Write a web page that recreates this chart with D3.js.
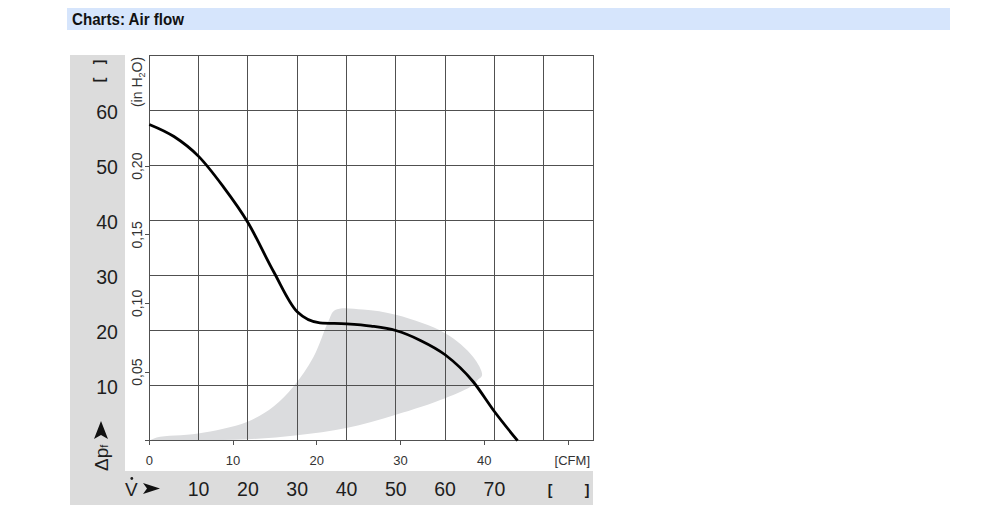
<!DOCTYPE html>
<html><head><meta charset="utf-8">
<script src="https://cdn.jsdelivr.net/npm/d3@7"></script>
<style>body{margin:0;background:#fff;} svg{display:block;font-family:"Liberation Sans",Arial,sans-serif;}</style>
</head><body>
<svg id="c" width="1000" height="515"></svg>
<script>
// ---- data ----
const title = "Charts: Air flow";
const flowTicks = [10, 20, 30, 40, 50, 60, 70];          // m³/h labels
const paTicks = [10, 20, 30, 40, 50, 60];                 // Pa labels
const cfmTicks = [0, 10, 20, 30, 40, 50];                 // CFM ticks
const inH2OTicks = [0.05, 0.10, 0.15, 0.20];              // in H2O ticks
const curveFlow = [0, 5, 10, 15, 20, 25.2, 30, 34.6, 40, 45, 50, 55, 60, 65.7, 70, 74.7];
const curvePa   = [57.4, 55.2, 51.6, 46.1, 39.6, 30.7, 23.4, 21.4, 21.2, 20.8, 20.0, 18.2, 15.6, 10.7, 5.3, 0];
const areaUpperFlow = [0, 1.5, 9.9, 19.8, 25.2, 29.2, 33.3, 36.3, 37.7, 43.3, 50.2, 60.0, 65.7, 67.5, 66.7];
const areaUpperPa   = [0, 0.6, 1.3, 3.4, 6.2, 9.8, 15.2, 21.6, 23.7, 23.8, 22.8, 19.5, 15.2, 11.9, 11.1];
const areaLowerFlow = [65.7, 60.0, 50.0, 40.0, 30.0, 19.8, 10, 0];
const areaLowerPa   = [10.1, 7.7, 4.7, 2.3, 1.0, 0.25, 0.05, 0];

const CFM = 1.699;      // m³/h per CFM
const INH2O = 249.09;   // Pa per inch H2O

const svg = d3.select("#c");
const x = d3.scaleLinear().domain([0, 90]).range([149.3, 593]);
const y = d3.scaleLinear().domain([0, 70]).range([440.7, 55]);

// header
svg.append("rect").attr("x", 67).attr("y", 8).attr("width", 883).attr("height", 22).attr("fill", "#d6e5fc");
svg.append("text").attr("x", 72).attr("y", 25).attr("font-size", 17).attr("font-weight", "bold")
  .attr("fill", "#111").attr("textLength", 112).attr("lengthAdjust", "spacingAndGlyphs").text(title);

// gray panels
svg.append("rect").attr("x", 70).attr("y", 55).attr("width", 55).attr("height", 450).attr("fill", "#dcdcdc");
svg.append("rect").attr("x", 70).attr("y", 471).attr("width", 523).attr("height", 34).attr("fill", "#dcdcdc");

// operating area
const areaPts = areaUpperFlow.map((f, i) => [f, areaUpperPa[i]])
  .concat(areaLowerFlow.map((f, i) => [f, areaLowerPa[i]]));
svg.append("path")
  .attr("d", d3.line().x(d => x(d[0])).y(d => y(d[1])).curve(d3.curveCatmullRomClosed.alpha(0.5))(areaPts))
  .attr("fill", "#dbdcde");

// grid
const g = svg.append("g").attr("stroke", "#505050").attr("stroke-width", 1).attr("shape-rendering", "crispEdges");
d3.range(0, 91, 10).forEach(v => {
  g.append("line").attr("x1", x(v)).attr("x2", x(v)).attr("y1", y(70)).attr("y2", v === 0 ? y(0) + 3 : y(0));
});
d3.range(0, 71, 10).forEach(p => {
  g.append("line").attr("y1", y(p)).attr("y2", y(p)).attr("x1", p === 0 ? x(0) - 4 : x(0)).attr("x2", x(90));
});
cfmTicks.forEach(c => {
  g.append("line").attr("x1", x(c * CFM)).attr("x2", x(c * CFM)).attr("y1", y(0)).attr("y2", y(0) + 4);
});
inH2OTicks.forEach(t => {
  g.append("line").attr("y1", y(t * INH2O)).attr("y2", y(t * INH2O)).attr("x1", x(0) - 4).attr("x2", x(0));
});

// curve
svg.append("path")
  .attr("d", d3.line().x(d => x(d[0])).y(d => y(d[1])).curve(d3.curveMonotoneX)(curveFlow.map((f, i) => [f, curvePa[i]])))
  .attr("fill", "none").attr("stroke", "#000").attr("stroke-width", 2.8).attr("stroke-linejoin", "round");

// CFM labels
svg.selectAll(".cfm").data(cfmTicks.slice(0, 5)).enter().append("text")
  .attr("x", d => x(d * CFM)).attr("y", 465).attr("text-anchor", "middle")
  .attr("font-size", 13).attr("fill", "#333").text(d => d);
svg.append("text").attr("x", 590).attr("y", 465).attr("text-anchor", "end").attr("font-size", 13).attr("fill", "#333").text("[CFM]");

// inH2O labels
inH2OTicks.forEach(t => {
  const yy = y(t * INH2O);
  svg.append("text").attr("transform", `translate(141.5,${yy}) rotate(-90)`).attr("text-anchor", "middle")
    .attr("font-size", 14).attr("fill", "#333").text(t.toFixed(2).replace(".", ","));
});
const ih = svg.append("text").attr("transform", "translate(141.5,82) rotate(-90)").attr("text-anchor", "middle")
  .attr("font-size", 14).attr("fill", "#333");
ih.append("tspan").text("(in H");
ih.append("tspan").attr("font-size", 9).attr("dy", 3).text("2");
ih.append("tspan").attr("dy", -3).text("O)");

// Pa labels
svg.selectAll(".pa").data(paTicks).enter().append("text")
  .attr("x", 107).attr("y", d => y(d) + 8.5).attr("text-anchor", "middle")
  .attr("font-size", 19.5).attr("fill", "#1e1e1e").text(d => d);

// flow labels
svg.selectAll(".fl").data(flowTicks).enter().append("text")
  .attr("x", d => x(d)).attr("y", 495.5).attr("text-anchor", "middle")
  .attr("font-size", 19.5).attr("fill", "#1e1e1e").text(d => d);

// brackets
svg.append("text").attr("transform", "translate(103.5,62) rotate(-90)").attr("text-anchor", "middle")
  .attr("font-size", 14).attr("font-weight", "bold").attr("fill", "#1e1e1e").text("]");
svg.append("text").attr("transform", "translate(103.5,80) rotate(-90)").attr("text-anchor", "middle")
  .attr("font-size", 14).attr("font-weight", "bold").attr("fill", "#1e1e1e").text("[");
svg.append("text").attr("x", 550).attr("y", 494.5).attr("text-anchor", "middle")
  .attr("font-size", 14).attr("font-weight", "bold").attr("fill", "#1e1e1e").text("[");
svg.append("text").attr("x", 587).attr("y", 494.5).attr("text-anchor", "middle")
  .attr("font-size", 14).attr("font-weight", "bold").attr("fill", "#1e1e1e").text("]");

// Δpf label with arrow
const dp = svg.append("text").attr("transform", "translate(108,471) rotate(-90)").attr("text-anchor", "start")
  .attr("font-size", 19).attr("fill", "#1e1e1e");
dp.append("tspan").text("Δp");
dp.append("tspan").attr("font-size", 11).text("f");
svg.append("path").attr("d", "M101,421 L108,439 L101,435 L94,439 Z").attr("fill", "#111");

// V̇ label with arrow
svg.append("text").attr("x", 125).attr("y", 495.5).attr("font-size", 19).attr("fill", "#1e1e1e").text("V");
svg.append("circle").attr("cx", 131.8).attr("cy", 478.5).attr("r", 1.4).attr("fill", "#1e1e1e");
svg.append("path").attr("d", "M143,483 L160,488.5 L143,494 L147,488.5 Z").attr("fill", "#111");
</script>
</body></html>
